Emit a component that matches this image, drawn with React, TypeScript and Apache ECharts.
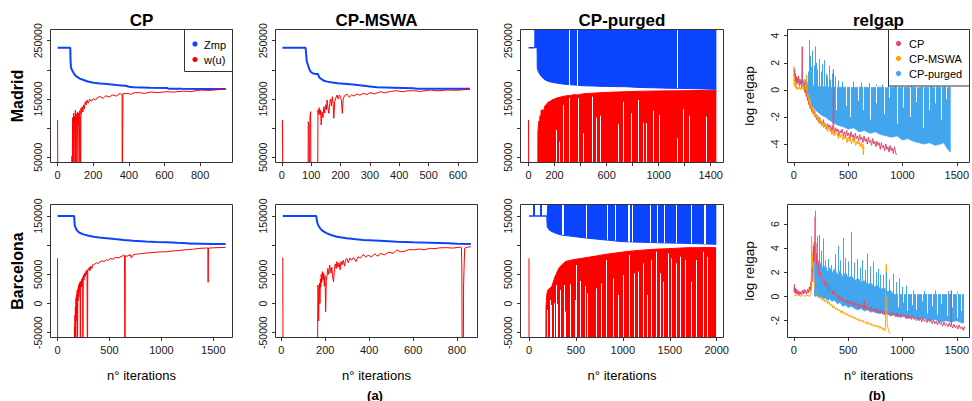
import React, { useEffect, useRef } from 'react';
import * as echarts from 'echarts';

// ---------------- DATA ----------------
// Madrid, CP
const zmpMadridCP = [[0,238000],[71,238000],[73,215000],[75,205000],[80,200000],[86,196800],[95,192000],[108,188300],[125,185000],[146,182600],[170,180000],[202,178000],[240,176800],[277,175700],[330,174000],[389,172300],[400,171000],[426,170000],[520,169400],[613,168900],[622,167800],[700,167500],[800,167200],[944,167000]];
const wuMadridCP = [[0,114000],[1,0],[79,0],[81,52000],[82,0],[84,118000],[86,0],[88,110000],[90,126000],[92,0],[95,120000],[97,108000],[100,131000],[102,0],[104,125000],[107,112000],[109,0],[112,128000],[115,104000],[118,126000],[121,0],[124,130000],[127,118000],[129,0],[131,134000],[134,125000],[138,136800],[142,128000],[146,140000],[150,133000],[155,145000],[160,140000],[165,148300],[172,143000],[180,150000],[190,146000],[202,151200],[212,148000],[225,153000],[240,154000],[255,151000],[270,155500],[290,153500],[310,157000],[330,155000],[351,159800],[358,157500],[362,158500],[363,0],[366,0],[367,159000],[389,159800],[410,158000],[430,160800],[464,160800],[490,159500],[520,162000],[560,161000],[613,162500],[650,161800],[706,163500],[750,162800],[800,165400],[850,164800],[900,166000],[944,166600]];

// Madrid, CP-MSWA
const zmpMadridMSWA = [[2,238000],[81,238000],[83,225000],[85,214000],[89,208300],[93,202000],[98,196800],[106,194000],[115,192900],[123,192900],[125,190000],[127,187200],[135,184000],[143,181400],[155,179800],[166,178600],[190,177000],[222,175700],[250,174500],[279,172800],[300,171500],[324,170000],[380,169500],[449,168400],[460,167700],[550,167700],[641,167700]];
const wuMadridMSWA = [[2,114000],[3,0],[89,0],[90,111000],[92,105000],[94,0],[96,121000],[98,128200],[99,0],[122,0],[123,131100],[125,124000],[127,135000],[130,122600],[132,131000],[134,105400],[137,128000],[140,118000],[143,136800],[146,126000],[149,140000],[152,132000],[154,148300],[157,135000],[160,125500],[163,142000],[166,150000],[169,138000],[172,154000],[175,140000],[177,116900],[180,145000],[184,152000],[188,156900],[192,150000],[196,157000],[200,153000],[203,147000],[206,125500],[209,150000],[214,156000],[222,158100],[230,153000],[238,157000],[245,155000],[256,158500],[265,156500],[279,159800],[290,157500],[300,161000],[315,158800],[336,162500],[350,160500],[370,163000],[392,164200],[410,162500],[430,164000],[449,164200],[470,163000],[506,165400],[530,164000],[562,165400],[600,165000],[620,166000],[641,166600]];

// Madrid, CP-purged
const zmpMadridPurgedStart = [[0,238000],[44,238000]];
const zmpMadridPurged = [[44,238000],[66,238000],[67,203000],[75,197000],[90,191200],[110,186000],[128,182600],[150,180500],[180,178600],[230,176800],[282,175200],[350,174000],[411,172800],[500,172200],[600,171500],[744,171100],[850,169800],[1000,169000],[1090,168400],[1250,167800],[1444,166600]];
const zmpMadridPurgedGaps = [[313,172500],[377,172000],[1141,168500]];
const wuMadridPurged = [[0,114000],[1,0],[71,0],[72,94000],[76,104000],[80,112000],[84,108000],[88,121000],[92,117000],[96,125000],[98,131000],[100,121000],[104,128000],[110,132000],[118,130000],[125,138000],[135,140000],[145,143000],[154,145000],[170,146500],[185,149000],[200,150000],[220,152000],[240,153000],[257,154000],[290,155500],[320,156000],[350,157500],[380,157000],[410,158500],[450,159500],[500,160000],[560,161000],[620,161500],[680,162000],[745,162500],[820,163000],[900,163500],[1000,163800],[1100,164000],[1200,164300],[1300,164500],[1380,164800],[1444,165000]];
const wuMadridPurgedGaps = [[213,96800],[234,76800],[264,139700],[313,152000],[380,151200],[418,91200],[492,154000],[523,118000],[552,121400],[690,106600],[728,145400],[792,125500],[846,148300],[885,109400],[905,108300],[962,130000],[1005,122600],[1141,82600],[1190,132800],[1238,121400],[1365,119600]];

// Madrid, relgap (log)
const relgapMadridCP = [[1,1.7],[4,1.0],[7,1.5],[10,0.7],[14,1.2],[18,0.6],[22,1.0],[27,0.4],[32,0.9],[38,0.5],[44,1.0],[50,0.3],[56,0.8],[62,0.4],[68,0.7],[73,0.2],[77,3.2],[79,0.5],[84,0.7],[90,0.1],[96,0.5],[102,-0.2],[108,0.3],[114,-0.5],[120,-0.1],[126,-0.8],[132,-0.5],[138,-1.1],[144,-0.8],[150,-1.4],[157,-1.0],[164,-1.6],[171,-1.3],[178,-1.8],[186,-1.5],[194,-2.0],[202,-1.8],[210,-2.2],[219,-1.9],[228,-2.4],[237,-2.0],[246,-2.5],[255,-2.3],[264,-2.6],[273,-2.2],[282,-2.7],[292,-2.5],[302,-2.9],[312,-2.5],[322,-2.8],[332,-2.6],[342,-3.1],[352,-2.7],[360,-3.0],[364,1.5],[367,-2.8],[376,-3.2],[386,-2.8],[396,-3.1],[406,-2.9],[416,-3.4],[426,-3.0],[436,-3.2],[446,-2.9],[456,-3.4],[466,-3.1],[476,-3.5],[486,-3.0],[496,-3.4],[506,-3.2],[516,-3.6],[526,-3.1],[536,-3.5],[546,-3.3],[556,-3.7],[566,-3.2],[576,-3.6],[586,-3.4],[596,-3.8],[606,-3.3],[616,-3.7],[626,-3.5],[636,-3.9],[646,-3.4],[656,-3.8],[666,-3.6],[676,-4.0],[686,-3.5],[696,-3.9],[706,-3.7],[716,-4.1],[726,-3.6],[736,-4.0],[746,-3.8],[756,-4.2],[766,-3.8],[776,-4.1],[786,-3.9],[796,-4.4],[806,-3.9],[816,-4.3],[826,-4.1],[836,-4.5],[846,-4.0],[856,-4.4],[866,-4.2],[876,-4.6],[886,-4.1],[896,-4.5],[906,-4.3],[916,-4.7],[926,-4.2],[936,-4.6],[944,-4.8]];
const relgapMadridMSWA = [[1,1.2],[3,0.4],[6,0.9],[10,0.2],[15,0.5],[20,0.1],[26,0.3],[32,0.0],[38,0.2],[45,0.05],[52,0.25],[60,0.0],[68,0.2],[76,0.05],[84,0.3],[92,0.0],[100,0.2],[108,0.4],[114,0.0],[118,1.1],[121,-0.2],[126,-0.5],[131,-0.3],[136,-0.8],[142,-0.6],[148,-1.1],[154,-0.8],[160,-1.4],[167,-1.2],[174,-1.7],[181,-1.4],[188,-1.9],[196,-1.6],[204,-2.1],[212,-1.8],[220,-2.3],[229,-2.1],[238,-2.5],[247,-2.2],[256,-2.7],[265,-2.4],[274,-2.8],[283,-2.5],[292,-2.9],[301,-2.7],[310,-3.1],[320,-2.8],[330,-3.0],[340,-2.9],[350,-3.3],[360,-3.0],[370,-3.4],[380,-3.1],[390,-3.3],[400,-3.2],[410,-3.6],[420,-3.2],[430,-3.5],[440,-3.3],[450,-3.7],[460,-3.4],[470,-3.6],[480,-3.5],[490,-3.9],[500,-3.5],[510,-3.8],[520,-3.6],[530,-4.0],[540,-3.6],[550,-3.9],[560,-3.7],[570,-4.1],[580,-3.8],[590,-4.0],[600,-3.8],[610,-4.2],[620,-3.9],[630,-4.3],[636,-4.0],[640,-4.8],[645,-4.2]];
// [iteration, lower edge, upper edge] of the dense CP-purged trace
const relgapMadridPurgedBand = [[100,-0.1,0.8],[115,-0.3,0.6],[130,-0.6,0.5],[145,-0.8,0.4],[160,-1.1,0.35],[180,-1.3,0.3],[200,-1.5,0.3],[230,-1.7,0.25],[260,-1.9,0.2],[290,-2.0,0.25],[320,-2.2,0.2],[360,-2.4,0.2],[400,-2.6,0.15],[450,-2.7,0.2],[500,-2.9,0.2],[550,-2.8,0.15],[600,-3.1,0.2],[650,-3.0,0.2],[700,-3.2,0.15],[750,-3.1,0.2],[800,-3.3,0.2],[850,-3.4,0.15],[900,-3.5,0.2],[950,-3.4,0.2],[1000,-3.7,0.15],[1050,-3.6,0.2],[1100,-3.8,0.2],[1150,-3.9,0.15],[1200,-4.0,0.2],[1250,-3.9,0.2],[1300,-4.1,0.15],[1350,-4.0,0.2],[1380,-3.9,0.2],[1410,-4.3,0.15],[1430,-4.5,0.2],[1440,-4.6,0.2]];
const relgapMadridPurgedSpikes = [[128,1.35],[143,3.7],[150,2.5],[158,1.7],[165,2.9],[173,2.6],[185,1.8],[194,3.2],[205,2.0],[218,1.5],[232,2.3],[248,1.35],[262,1.9],[278,2.2],[295,1.2],[308,1.0],[325,1.8],[338,0.75],[355,1.2],[383,1.0],[410,0.7],[450,0.6],[547,0.62],[620,0.55],[696,0.5],[760,0.4],[816,0.4],[870,0.45],[935,0.5],[1000,0.4],[1085,0.4],[1180,0.35],[1264,0.5],[1320,0.35],[1384,0.4]];
const relgapMadridPurgedGaps = [[390,-1.5],[480,-1.2],[520,-2.0],[590,-0.8],[640,-1.5],[700,-2.2],[760,-1.0],[830,-1.8],[880,-0.6],[950,-2.5],[1010,-1.3],[1070,-2.0],[1130,-0.9],[1190,-2.8],[1250,-1.5],[1300,-1.0],[1360,-2.2],[1400,-0.7]];

// Barcelona, CP
const zmpBarcelonaCP = [[0,150000],[160,150000],[163,140000],[166,134000],[170,131700],[180,127500],[192,124300],[210,121500],[230,120000],[250,118600],[290,116500],[346,114600],[400,113000],[474,111800],[550,110500],[640,109000],[730,107700],[850,106500],[950,105600],[1051,104900],[1150,104000],[1250,103300],[1260,102700],[1372,102600],[1500,102200],[1619,102000]];
const wuBarcelonaCP = [[0,77500],[1,-150000],[160,-150000],[163,-40000],[165,-150000],[168,-20000],[170,-55000],[172,-5000],[175,-150000],[178,10000],[180,-30000],[183,15000],[186,-10000],[189,22000],[192,-150000],[195,25000],[198,5000],[202,31700],[206,12000],[210,35000],[214,20000],[218,37400],[220,-150000],[223,38000],[228,28000],[233,42000],[238,30000],[242,45000],[244,-150000],[247,44000],[250,48900],[255,40000],[260,52000],[266,46000],[272,55000],[278,50000],[284,58000],[288,-150000],[291,57500],[298,57500],[305,62000],[312,56000],[320,64000],[330,60000],[340,67000],[346,66000],[360,68000],[375,70000],[390,68500],[410,71700],[430,73000],[450,72000],[470,75000],[490,74000],[506,77500],[530,76000],[560,79000],[590,78500],[620,81000],[635,83200],[645,82000],[649,82500],[650,-150000],[652,82000],[670,81000],[700,84000],[710,78000],[730,83800],[760,84500],[800,85500],[850,86500],[900,87000],[950,88000],[1000,88500],[1051,88800],[1100,90000],[1150,90500],[1200,91500],[1250,92500],[1300,93000],[1372,94600],[1420,95000],[1448,95200],[1450,36400],[1453,95000],[1500,95500],[1560,96000],[1619,96300]];

// Barcelona, CP-MSWA
const zmpBarcelonaMSWA = [[7,150000],[159,150000],[162,143000],[165,137500],[170,133000],[177,128900],[190,124000],[208,120300],[230,117000],[253,114600],[298,111800],[340,110000],[374,108900],[450,107500],[526,106000],[600,105000],[678,104300],[760,103300],[800,102500],[863,102000]];
const wuBarcelonaMSWA = [[7,78600],[8,-150000],[164,-150000],[166,-20000],[167,31700],[169,10000],[170,-30000],[172,25000],[174,35000],[176,0],[178,42000],[180,28000],[182,50000],[184,36000],[187,54600],[190,40000],[193,52000],[196,30000],[199,48000],[202,-14000],[205,40000],[208,46000],[212,60000],[216,50000],[220,66000],[223,60000],[227,52000],[230,62000],[234,45000],[238,37400],[242,58000],[246,68000],[250,60000],[253,71700],[258,62000],[263,70000],[268,58000],[272,72000],[276,66000],[282,74000],[288,64000],[293,75000],[298,77500],[305,70000],[312,78000],[320,74000],[329,79000],[340,72000],[350,80000],[360,78000],[374,84300],[385,79000],[395,83000],[410,80000],[425,85000],[440,81000],[450,86000],[470,83500],[490,88000],[510,86000],[526,91700],[545,88500],[565,90000],[580,92500],[602,92000],[630,93500],[650,92000],[678,94600],[700,94000],[720,95500],[754,95700],[780,95000],[800,96000],[815,96800],[820,96000],[822,60000],[824,-150000],[828,-150000],[830,31700],[832,60000],[835,95000],[845,96500],[863,97400]];

// Barcelona, CP-purged
const zmpBarcelonaPurgedStart = [[0,150000],[189,150000]];
const zmpBarcelonaPurgedEarlyJumps = [53,125];
const zmpBarcelonaPurged = [[189,150000],[193,150000],[194,131700],[210,127000],[230,124500],[247,123100],[290,120000],[347,117400],[420,116000],[489,114500],[600,112500],[738,110100],[850,108500],[966,106500],[1023,106000],[1200,105000],[1400,104000],[1641,103200],[1800,102500],[1996,101500]];
const zmpBarcelonaPurgedGaps = [[354,118000],[362,118000],[370,118000],[607,112700],[834,109200],[916,108000],[1055,106000],[1064,106000],[1073,106000],[1105,105800],[1289,104700],[1371,104300],[1442,104000],[1574,103500],[1734,102800],[1862,102200],[1870,102200],[1878,102200]];
const wuBarcelonaPurged = [[0,77500],[1,-150000],[180,-150000],[181,-8200],[186,5000],[190,15000],[195,20300],[205,24000],[220,26000],[242,28800],[255,35000],[277,46000],[295,52000],[310,58000],[330,63100],[355,67000],[384,71700],[420,73500],[470,75000],[520,76500],[562,77500],[620,79000],[700,81000],[775,83200],[850,85000],[920,86500],[1023,88800],[1100,90000],[1200,91500],[1325,92900],[1450,93800],[1550,94500],[1680,95700],[1800,95700],[1900,96000],[1993,95700]];
const wuBarcelonaPurgedGaps = [[195,-11000],[224,6000],[242,-2500],[266,400],[295,31700],[302,-1000],[330,23200],[376,31700],[390,-14000],[437,32900],[490,6000],[508,66000],[543,38600],[597,30000],[621,17500],[714,26100],[775,34700],[828,74600],[899,43200],[955,14600],[1005,48900],[1069,83200],[1119,51800],[1165,54600],[1218,68900],[1261,14600],[1307,74600],[1361,88800],[1396,51800],[1431,37400],[1484,86000],[1516,77500],[1566,68900],[1609,80300],[1662,74600],[1734,37400],[1787,74600],[1857,88800],[1900,80300]];

// Barcelona, relgap (log)
const relgapBarcelonaCP = [[1,0.4],[5,1.0],[9,0.3],[14,0.7],[19,0.2],[24,0.6],[30,0.2],[36,0.5],[42,0.15],[48,0.45],[55,0.1],[62,0.4],[70,0.15],[78,0.5],[86,0.2],[94,0.6],[102,0.25],[110,0.5],[118,0.2],[126,0.6],[134,0.3],[142,0.8],[150,0.4],[156,1.2],[160,0.6],[164,2.5],[168,1.2],[172,3.4],[176,2.0],[180,4.2],[184,2.8],[188,4.5],[192,3.0],[196,6.6],[199,3.5],[203,4.4],[207,2.6],[212,3.6],[217,2.2],[222,3.0],[228,1.8],[234,2.4],[240,1.5],[246,2.0],[250,1.7],[262,1.2],[274,1.5],[286,0.9],[298,1.2],[310,0.6],[322,0.9],[334,0.4],[346,0.6],[358,0.2],[370,0.45],[382,0.0],[394,0.2],[406,-0.25],[418,0.05],[430,-0.3],[442,-0.05],[454,-0.45],[466,-0.25],[478,-0.5],[490,-0.3],[502,-0.65],[514,-0.35],[526,-0.6],[538,-0.45],[550,-0.8],[562,-0.5],[574,-0.75],[586,-0.55],[598,-0.95],[610,-0.6],[622,-0.9],[634,-0.7],[646,-1.05],[648,-0.3],[650,-1.0],[662,-0.75],[674,-1.1],[686,-0.9],[698,-1.2],[710,-0.85],[722,-1.2],[734,-1.0],[746,-1.35],[758,-1.0],[770,-1.3],[782,-1.15],[794,-1.45],[806,-1.1],[818,-1.4],[830,-1.25],[842,-1.55],[854,-1.2],[866,-1.5],[878,-1.35],[890,-1.6],[902,-1.3],[914,-1.55],[926,-1.4],[938,-1.7],[950,-1.35],[962,-1.65],[974,-1.5],[986,-1.75],[998,-1.45],[1010,-1.7],[1022,-1.55],[1034,-1.85],[1046,-1.5],[1058,-1.8],[1070,-1.65],[1082,-1.9],[1094,-1.6],[1106,-1.9],[1118,-1.75],[1130,-2.0],[1142,-1.7],[1154,-2.0],[1166,-1.8],[1178,-2.1],[1190,-1.75],[1202,-2.05],[1214,-1.9],[1226,-2.15],[1238,-1.85],[1250,-2.1],[1262,-2.0],[1274,-2.25],[1286,-1.95],[1298,-2.25],[1310,-2.05],[1322,-2.35],[1334,-2.0],[1346,-2.3],[1358,-2.15],[1370,-2.45],[1382,-2.1],[1394,-2.4],[1406,-2.25],[1418,-2.5],[1430,-2.2],[1442,-2.5],[1448,-2.3],[1450,0.5],[1452,-2.35],[1462,-2.6],[1474,-2.3],[1486,-2.6],[1498,-2.4],[1510,-2.7],[1522,-2.35],[1534,-2.65],[1546,-2.5],[1558,-2.8],[1570,-2.5],[1582,-2.85],[1594,-2.6],[1606,-2.9],[1619,-2.7]];
const relgapBarcelonaMSWA = [[1,0.0],[10,0.1],[20,0.05],[30,0.15],[40,0.05],[50,0.1],[60,0.0],[70,0.1],[80,0.05],[90,0.12],[100,0.0],[110,0.1],[120,0.05],[130,0.12],[140,0.0],[150,0.1],[158,0.3],[161,2.0],[163,5.0],[166,3.0],[169,3.7],[172,2.4],[176,2.8],[180,1.8],[185,1.4],[190,1.0],[197,0.6],[205,0.3],[214,0.4],[224,0.0],[234,0.1],[244,-0.2],[254,-0.05],[264,-0.35],[276,-0.15],[288,-0.45],[300,-0.3],[312,-0.6],[324,-0.4],[336,-0.75],[348,-0.6],[360,-0.95],[372,-0.8],[384,-1.1],[396,-0.95],[408,-1.2],[420,-1.05],[432,-1.35],[444,-1.15],[456,-1.45],[468,-1.3],[480,-1.55],[492,-1.4],[504,-1.65],[516,-1.5],[528,-1.75],[540,-1.6],[552,-1.85],[564,-1.7],[576,-1.95],[588,-1.8],[600,-2.05],[612,-1.9],[624,-2.1],[636,-1.95],[648,-2.2],[660,-2.05],[672,-2.3],[684,-2.1],[696,-2.35],[708,-2.2],[720,-2.45],[732,-2.3],[744,-2.5],[756,-2.35],[768,-2.55],[780,-2.4],[792,-2.65],[804,-2.5],[816,-2.75],[828,-2.6],[836,-2.85],[842,-2.6],[846,-0.5],[851,2.65],[855,0.0],[860,-2.3],[866,-2.6],[872,-2.8],[880,-3.0],[887,-3.1]];
const relgapBarcelonaPurgedBand = [[190,0.1,2.5],[200,0.0,3.5],[215,0.1,3.0],[230,-0.1,2.6],[250,0.0,2.8],[270,-0.2,2.2],[290,-0.1,2.6],[310,-0.3,2.0],[330,-0.2,2.4],[350,-0.4,1.9],[375,-0.3,2.3],[400,-0.6,1.8],[425,-0.5,2.1],[450,-0.8,1.6],[475,-0.7,2.0],[500,-0.9,1.5],[530,-0.8,1.7],[560,-1.0,1.3],[590,-1.1,1.5],[620,-1.0,1.2],[650,-1.2,1.3],[680,-1.1,1.0],[710,-1.3,1.1],[740,-1.2,0.8],[770,-1.4,0.9],[800,-1.3,0.6],[830,-1.5,0.7],[860,-1.4,0.4],[890,-1.6,0.5],[920,-1.5,0.16],[960,-1.7,0.16],[1000,-1.6,0.16],[1050,-1.8,0.16],[1100,-1.7,0.16],[1150,-1.9,0.16],[1200,-1.8,0.16],[1250,-2.0,0.16],[1300,-1.9,0.16],[1350,-2.1,0.16],[1400,-2.0,0.16],[1450,-2.1,0.16],[1500,-2.0,0.16],[1550,-2.2,0.16],[1600,-2.1,0.16]];
const relgapBarcelonaPurgedSpikes = [[201,7.1],[214,5.0],[235,5.1],[250,3.8],[268,4.8],[290,3.0],[318,3.1],[348,2.6],[380,3.5],[408,4.2],[430,3.0],[452,4.85],[475,3.2],[497,2.9],[533,5.35],[560,2.8],[586,3.1],[610,2.4],[631,3.0],[655,2.2],[676,3.55],[700,2.5],[735,2.9],[760,2.0],[780,2.3],[800,1.8],[824,1.8],[854,2.0],[880,1.4],[914,1.9],[940,1.2],[973,1.5],[1000,0.8],[1033,0.9],[1100,0.5],[1200,0.45],[1300,0.5],[1420,0.45],[1500,0.4]];
const relgapBarcelonaPurgedGaps = [[960,-0.9],[1010,-0.5],[1040,-1.2],[1090,-0.7],[1130,-1.1],[1180,-0.4],[1230,-1.4],[1270,-0.8],[1320,-1.5],[1360,-0.6],[1410,-1.6],[1460,-0.9],[1500,-1.8],[1540,-1.2]];

// Ticks and labels
const xTicksMadridCP = [0,200,400,600,800];
const xTicksMadridMSWA = [0,100,200,300,400,500,600];
const xTicksMadridPurged = [0,200,400,600,800,1000,1200,1400];
const xLabelsMadridPurged = [0,200,600,1000,1400];
const xTicksRelgap = [0,500,1000,1500];
const xTicksBarcelonaCP = [0,500,1000,1500];
const xTicksBarcelonaMSWA = [0,200,400,600,800];
const xTicksBarcelonaPurged = [0,500,1000,1500,2000];
const yTicksMadrid = [50000,100000,150000,200000,250000];
const yLabelsMadrid = [50000,150000,250000];
const yTicksBarcelona = [-50000,0,50000,100000,150000];
const yLabelsBarcelona = [-50000,0,50000,150000];
const yTicksRelgapMadrid = [-4,-2,0,2,4];
const yTicksRelgapBarcelona = [-2,0,2,4,6];

const columnTitles = ['CP', 'CP-MSWA', 'CP-purged', 'relgap'];
const rowTitles = ['Madrid', 'Barcelona'];
const legendCP = ['Zmp', 'w(u)'];
const legendRelgap = ['CP', 'CP-MSWA', 'CP-purged'];

// ---------------- LAYOUT / STYLE ----------------
const FONT = '"Liberation Sans", Arial, Helvetica, sans-serif';
const BLUE = '#0a44ff';
const RED = '#ff0000';
const CRIMSON = '#dc4a6e';
const ORANGE = '#ffa500';
const SKY = '#42a6ef';
const INK = '#1a1a1a';

const COLS = [{ l: 51, w: 181 }, { l: 276, w: 201 }, { l: 521, w: 202 }, { l: 788, w: 181 }];
const ROWS = [{ t: 30, h: 132 }, { t: 205, h: 132 }];

const xExt = [[-37, 979], [-20, 665], [-58, 1495], [-54, 1568], [-63, 1680], [-24, 891], [-85, 2067], [-54, 1562]];
const yExt = [[41900, 268400], [41900, 268400], [41900, 268400], [-5.33, 4.42], [-57400, 168900], [-57400, 168900], [-57400, 168900], [-3.35, 7.57]];
const xTicks = [xTicksMadridCP, xTicksMadridMSWA, xTicksMadridPurged, xTicksRelgap, xTicksBarcelonaCP, xTicksBarcelonaMSWA, xTicksBarcelonaPurged, xTicksRelgap];
const xLabels = [xTicksMadridCP, xTicksMadridMSWA, xLabelsMadridPurged, xTicksRelgap, xTicksBarcelonaCP, xTicksBarcelonaMSWA, xTicksBarcelonaPurged, xTicksRelgap];
const yTicks = [yTicksMadrid, yTicksMadrid, yTicksMadrid, yTicksRelgapMadrid, yTicksBarcelona, yTicksBarcelona, yTicksBarcelona, yTicksRelgapBarcelona];
const yLabels = [yLabelsMadrid, yLabelsMadrid, yLabelsMadrid, yTicksRelgapMadrid, yLabelsBarcelona, yLabelsBarcelona, yLabelsBarcelona, yTicksRelgapBarcelona];

const PANELS = [0, 1, 2, 3, 4, 5, 6, 7].map((i) => ({ c: i % 4, r: Math.floor(i / 4) }));

function line(idx: number, data: any[], color: string, width: number, extra: any = {}) {
  return {
    type: 'line', xAxisIndex: idx, yAxisIndex: idx, data,
    symbol: 'none', showSymbol: false, silent: true, clip: true, animation: false,
    lineStyle: { color, width }, itemStyle: { color },
    emphasis: { disabled: true },
    ...extra,
  };
}

function segs(list: number[][], color: string, width: number) {
  return {
    silent: true, animation: false, symbol: ['none', 'none'],
    label: { show: false }, emphasis: { disabled: true },
    lineStyle: { color, width, type: 'solid', opacity: 1 },
    data: list.map(([x, y0, y1]) => [{ coord: [x, y0] }, { coord: [x, y1] }]),
  };
}

// dense CP-purged relgap trace, drawn as one polygon between its lower and upper edges
function band(idx: number, rows: number[][]) {
  return {
    type: 'custom', xAxisIndex: idx, yAxisIndex: idx, clip: true, silent: true, animation: false,
    data: rows, encode: { x: 0, y: [1, 2] },
    renderItem: (params: any, api: any) => {
      if (params.dataIndex !== 0) return null;
      const upper = rows.map((r) => api.coord([r[0], r[2]]));
      const lower = rows.map((r) => api.coord([r[0], r[1]])).reverse();
      return { type: 'polygon', shape: { points: upper.concat(lower) }, style: { fill: SKY, stroke: SKY, lineWidth: 0.8 } };
    },
  };
}

function buildOption() {
  const fmt = (v: number) => String(v);
  const grid = PANELS.map((p) => ({ left: COLS[p.c].l, top: ROWS[p.r].t, width: COLS[p.c].w, height: ROWS[p.r].h, containLabel: false }));
  const xAxis = PANELS.map((_, i) => ({
    type: 'value', gridIndex: i, min: xExt[i][0], max: xExt[i][1],
    axisLine: { show: false, onZero: false }, splitLine: { show: false },
    axisTick: { show: true, length: 4, lineStyle: { color: '#333' }, customValues: xTicks[i] },
    axisLabel: { customValues: xLabels[i], formatter: fmt, color: INK, fontSize: 11, fontFamily: FONT, margin: 7 },
  }));
  const yAxis = PANELS.map((_, i) => ({
    type: 'value', gridIndex: i, min: yExt[i][0], max: yExt[i][1],
    axisLine: { show: false, onZero: false }, splitLine: { show: false },
    axisTick: { show: true, length: 4, lineStyle: { color: '#333' }, customValues: yTicks[i] },
    axisLabel: { customValues: yLabels[i], formatter: fmt, rotate: 90, color: INK, fontSize: 10.5, fontFamily: FONT, margin: 8 },
  }));

  const series: any[] = [];
  // Madrid CP
  series.push(line(0, zmpMadridCP, BLUE, 2));
  series.push(line(0, wuMadridCP, RED, 1));
  // Madrid CP-MSWA
  series.push(line(1, zmpMadridMSWA, BLUE, 2));
  series.push(line(1, wuMadridMSWA, RED, 1));
  // Madrid CP-purged
  series.push(line(2, zmpMadridPurgedStart, BLUE, 1.5));
  series.push(line(2, zmpMadridPurged, BLUE, 1, {
    areaStyle: { color: BLUE, opacity: 1, origin: 'end' },
    markLine: segs(zmpMadridPurgedGaps.map(([x, y]) => [x, y, yExt[2][1]]), '#ffffff', 1),
  }));
  series.push(line(2, wuMadridPurged, RED, 1, {
    areaStyle: { color: RED, opacity: 1, origin: 'start' },
    markLine: segs(wuMadridPurgedGaps.map(([x, y]) => [x, yExt[2][0], y]), '#ffffff', 1),
  }));
  // Madrid relgap
  series.push(band(3, relgapMadridPurgedBand));
  series.push(line(3, relgapMadridCP, CRIMSON, 1, {
    markLine: segs(relgapMadridPurgedSpikes.map(([x, y]) => [x, 0, y]), SKY, 1),
  }));
  series.push(line(3, relgapMadridMSWA, ORANGE, 1, {
    markLine: segs(relgapMadridPurgedGaps.map(([x, y]) => [x, y, 0.3]), '#ffffff', 1),
  }));

  // Barcelona CP
  series.push(line(4, zmpBarcelonaCP, BLUE, 2));
  series.push(line(4, wuBarcelonaCP, RED, 1));
  // Barcelona CP-MSWA
  series.push(line(5, zmpBarcelonaMSWA, BLUE, 2));
  series.push(line(5, wuBarcelonaMSWA, RED, 1));
  // Barcelona CP-purged
  series.push(line(6, zmpBarcelonaPurgedStart, BLUE, 1.5, {
    markLine: segs(zmpBarcelonaPurgedEarlyJumps.map((x) => [x, 150000, yExt[6][1]]), BLUE, 2),
  }));
  series.push(line(6, zmpBarcelonaPurged, BLUE, 1, {
    areaStyle: { color: BLUE, opacity: 1, origin: 'end' },
    markLine: segs(zmpBarcelonaPurgedGaps.map(([x, y]) => [x, y, yExt[6][1]]), '#ffffff', 1),
  }));
  series.push(line(6, wuBarcelonaPurged, RED, 1, {
    areaStyle: { color: RED, opacity: 1, origin: 'start' },
    markLine: segs(wuBarcelonaPurgedGaps.map(([x, y]) => [x, yExt[6][0], y]), '#ffffff', 1),
  }));
  // Barcelona relgap
  series.push(band(7, relgapBarcelonaPurgedBand));
  series.push(line(7, relgapBarcelonaCP, CRIMSON, 1, {
    markLine: segs(relgapBarcelonaPurgedSpikes.map(([x, y]) => [x, 0, y]), SKY, 1),
  }));
  series.push(line(7, relgapBarcelonaMSWA, ORANGE, 1, {
    markLine: segs(relgapBarcelonaPurgedGaps.map(([x, y]) => [x, y, 0.25]), '#ffffff', 1),
  }));

  const graphic: any[] = [];
  PANELS.forEach((p) => {
    graphic.push({
      type: 'rect', z: 50, silent: true,
      shape: { x: COLS[p.c].l - 0.5, y: ROWS[p.r].t - 0.5, width: COLS[p.c].w + 1, height: ROWS[p.r].h + 1 },
      style: { fill: 'none', stroke: '#333', lineWidth: 1 },
    });
  });
  const txt = (text: string, x: number, y: number, size: number, weight: string, rotation = 0, align = 'center') => ({
    type: 'text', x, y, rotation, z: 60, silent: true,
    style: { text, fontSize: size, fontWeight: weight, fontFamily: FONT, fill: '#000', align, verticalAlign: 'middle' },
  });
  columnTitles.forEach((t, c) => graphic.push(txt(t, COLS[c].l + COLS[c].w / 2, 20, 17, 'bold')));
  rowTitles.forEach((t, r) => graphic.push(txt(t, 17, ROWS[r].t + ROWS[r].h / 2, 16, 'bold', Math.PI / 2)));
  COLS.forEach((c) => graphic.push(txt('n° iterations', c.l + c.w / 2, 375, 13, 'normal')));
  ROWS.forEach((r) => graphic.push(txt('log relgap', 749, r.t + r.h / 2, 13.5, 'normal', Math.PI / 2)));
  graphic.push(txt('(a)', 375, 395, 13, 'bold'));
  graphic.push(txt('(b)', 877, 395, 13, 'bold'));

  // legend: CP panel (Madrid)
  graphic.push({ type: 'rect', z: 70, silent: true, shape: { x: 184.5, y: 29.5, width: 48, height: 42 }, style: { fill: '#fff', stroke: '#333', lineWidth: 1 } });
  [BLUE, RED].forEach((col, k) => {
    graphic.push({ type: 'circle', z: 71, silent: true, shape: { cx: 195, cy: 44 + k * 15.5, r: 2.6 }, style: { fill: col } });
    graphic.push({ ...txt(legendCP[k], 204, 44.5 + k * 15.5, 11, 'normal', 0, 'left'), z: 71 });
  });
  // legend: relgap panel (Madrid)
  graphic.push({ type: 'rect', z: 70, silent: true, shape: { x: 888.5, y: 29.5, width: 81, height: 56.5 }, style: { fill: '#fff', stroke: '#333', lineWidth: 1 } });
  [CRIMSON, ORANGE, SKY].forEach((col, k) => {
    graphic.push({ type: 'circle', z: 71, silent: true, shape: { cx: 898.5, cy: 43.5 + k * 15, r: 2.6 }, style: { fill: col } });
    graphic.push({ ...txt(legendRelgap[k], 909, 44 + k * 15, 11, 'normal', 0, 'left'), z: 71 });
  });

  return { animation: false, backgroundColor: '#ffffff', grid, xAxis, yAxis, series, graphic };
}

export default function App() {
  const ref = useRef<HTMLDivElement>(null);
  useEffect(() => {
    if (!ref.current) return;
    const chart = echarts.init(ref.current, null, { renderer: 'svg' });
    chart.setOption(buildOption() as any);
    return () => chart.dispose();
  }, []);
  return <div ref={ref} style={{ position: 'fixed', left: 0, top: 0, width: 972, height: 401, background: '#fff' }} />;
}
